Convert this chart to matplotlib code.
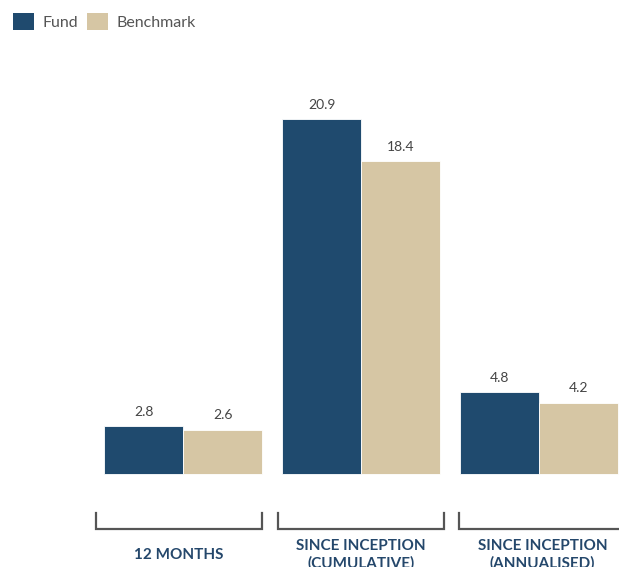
import matplotlib.pyplot as plt
from matplotlib.patches import Patch
import numpy as np

# data
categories = ["12 MONTHS", "SINCE INCEPTION\n(CUMULATIVE)", "SINCE INCEPTION\n(ANNUALISED)"]
fund = [2.8, 20.9, 4.8]
benchmark = [2.6, 18.4, 4.2]

FUND_COL = "#1F4A6E"
BENCH_COL = "#D6C6A4"
LABEL_COL = "#24476B"

plt.rcParams['font.family'] = ['Lato', 'DejaVu Sans']

W, H = 619, 567
fig = plt.figure(figsize=(W / 100, H / 100), dpi=100)

# axes spans pixel x 80..619, y 60..567
ax = fig.add_axes([80 / W, 0, 1 - 80 / W, 1 - 60 / H])
px_per_x = 178.0
px_per_y = 16.99
x0_px, base_px = 183.25, 474
ax.set_xlim((80 - x0_px) / px_per_x, (W - x0_px) / px_per_x)
ax.set_ylim((base_px - H) / px_per_y, (base_px - 60) / px_per_y)
ax.axis('off')

x = np.arange(len(categories))
bw = 0.444
b1 = ax.bar(x - bw / 2, fund, bw, color=FUND_COL, edgecolor='white', linewidth=0.6)
b2 = ax.bar(x + bw / 2, benchmark, bw, color=BENCH_COL, edgecolor='white', linewidth=0.6)

for bars in (b1, b2):
    for r in bars:
        ax.annotate(f"{r.get_height():.1f}", (r.get_x() + r.get_width() / 2, r.get_height()),
                    xytext=(0, 6), textcoords='offset points', ha='center', va='bottom',
                    fontsize=10, color='#444444')

# brackets under each group
y_top = (base_px - 513) / px_per_y
y_bot = (base_px - 529) / px_per_y
y_txt = (base_px - 555) / px_per_y
for i, lab in enumerate(categories):
    c = -0.024 + 1.021 * i
    l, r = c - 0.467, c + 0.467
    ax.plot([l, l, r, r], [y_top, y_bot, y_bot, y_top], color='#555555', lw=1.6,
            clip_on=False, solid_joinstyle='miter')
    ax.text(c, y_txt, lab, ha='center', va='center', fontsize=11, fontweight='bold',
            color=LABEL_COL, linespacing=1.25)

handles = [Patch(facecolor=FUND_COL, label='Fund'), Patch(facecolor=BENCH_COL, label='Benchmark')]
fig.legend(handles=handles, loc='upper left', bbox_to_anchor=(13 / W, 1 - 13 / H), ncol=2,
           frameon=False, fontsize=11.5, handlelength=1.3, handleheight=1.3,
           handletextpad=0.55, columnspacing=0.55, borderpad=0, borderaxespad=0,
           labelcolor='#555555')

plt.savefig('out.png', dpi=100, facecolor='white')
